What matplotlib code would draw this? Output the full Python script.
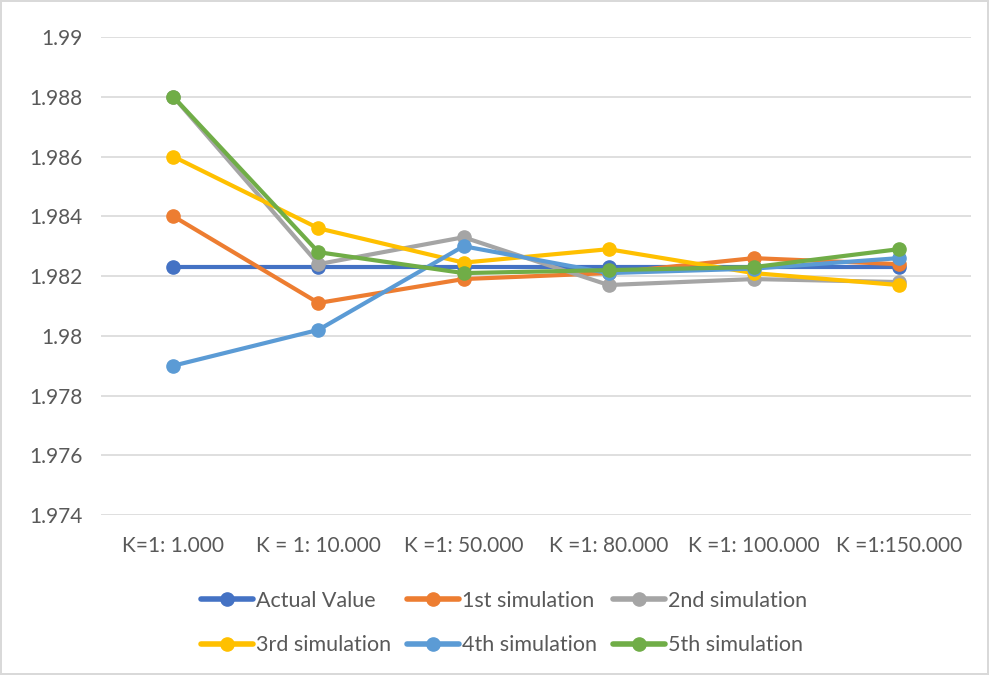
import matplotlib.pyplot as plt
import numpy as np

plt.rcParams['font.family'] = ['Lato', 'DejaVu Sans']

# categories and series values
categories = ['K=1: 1.000', 'K = 1: 10.000', 'K =1: 50.000', 'K =1: 80.000',
              'K =1: 100.000', 'K =1:150.000']
actual = [1.9823, 1.9823, 1.9823, 1.9823, 1.9823, 1.9823]
sim1 = [1.9840, 1.9811, 1.9819, 1.9821, 1.9826, 1.9824]
sim2 = [1.9880, 1.9824, 1.9833, 1.9817, 1.9819, 1.9818]
sim3 = [1.9860, 1.9836, 1.98245, 1.9829, 1.9821, 1.9817]
sim4 = [1.9790, 1.9802, 1.9830, 1.9821, 1.98225, 1.9826]
sim5 = [1.9880, 1.9828, 1.9821, 1.9822, 1.9823, 1.9829]

series = [
    ('Actual Value', actual, '#4472C4'),
    ('1st simulation', sim1, '#ED7D31'),
    ('2nd simulation', sim2, '#A5A5A5'),
    ('3rd simulation', sim3, '#FFC000'),
    ('4th simulation', sim4, '#5B9BD5'),
    ('5th simulation', sim5, '#70AD47'),
]

fig = plt.figure(figsize=(9.89, 6.75), dpi=100, edgecolor='#d9d9d9', linewidth=1.5)
ax = fig.add_axes([0.102, 0.237, 0.880, 0.708])

x = np.arange(len(categories))
handles = []
for name, vals, color in series:
    h, = ax.plot(x, vals, '-o', color=color, linewidth=3, markersize=9.5,
                 solid_capstyle='round', label=name)
    handles.append(h)

ax.set_xlim(-0.5, len(categories) - 0.5)
ax.set_ylim(1.974, 1.99)
yticks = np.arange(1.974, 1.9901, 0.002)
ax.set_yticks(yticks)
ax.set_yticklabels(['%g' % round(t, 3) for t in yticks])
ax.set_xticks(x)
ax.set_xticklabels(categories)
ax.tick_params(axis='both', length=0, labelsize=15, colors='#595959')
ax.tick_params(axis='y', pad=13)
ax.tick_params(axis='x', pad=15)
ax.grid(axis='y', color='#d9d9d9', linewidth=1.2)
ax.set_axisbelow(True)
for s in ax.spines.values():
    s.set_visible(False)

# row-wise legend order for matplotlib's column-major fill
order = [0, 3, 1, 4, 2, 5]
leg = fig.legend([handles[i] for i in order], [series[i][0] for i in order],
                 loc='center', bbox_to_anchor=(0.51, 0.077), ncol=3, frameon=False,
                 fontsize=15.5, handlelength=2.4, columnspacing=0.75, handletextpad=0.15,
                 labelspacing=1.15)
for t in leg.get_texts():
    t.set_color('#595959')
for h in leg.legend_handles:
    h.set_linewidth(4)

fig.savefig('out.png', dpi=100, edgecolor=fig.get_edgecolor())
